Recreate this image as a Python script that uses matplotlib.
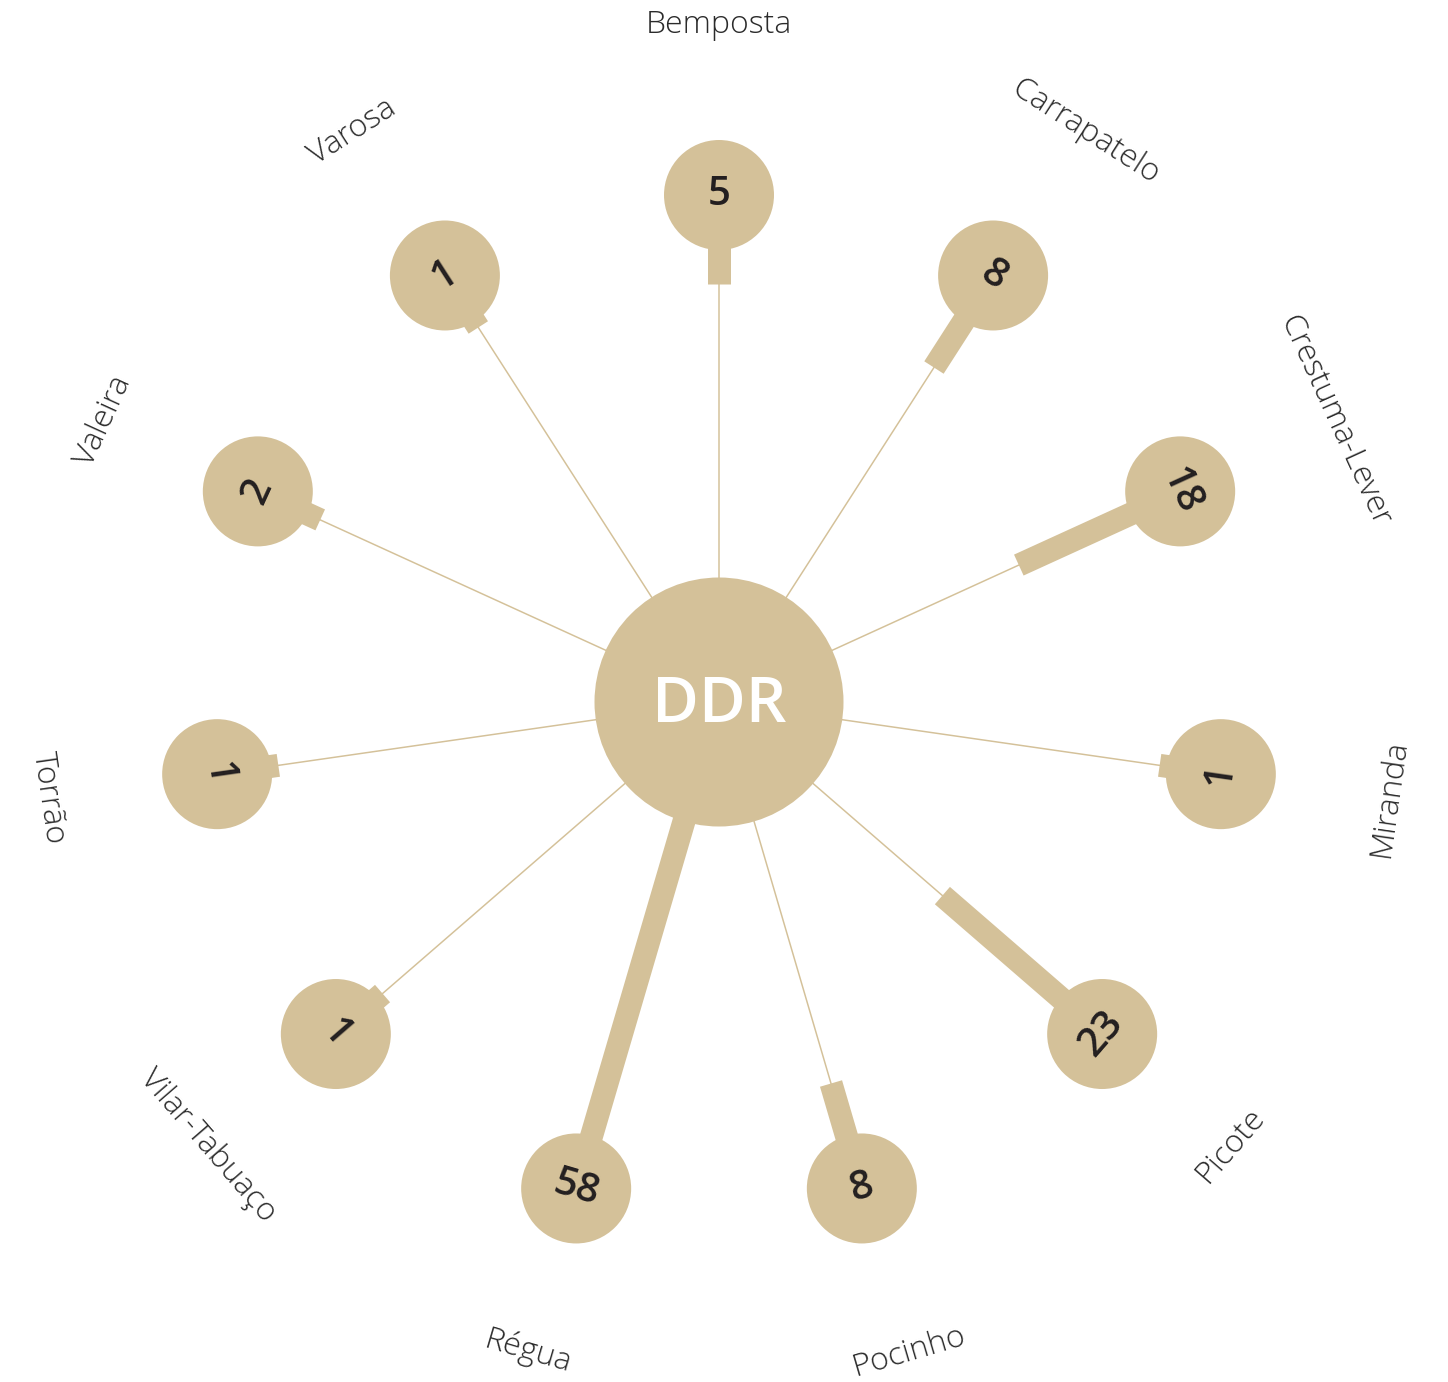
import numpy as np
import matplotlib
matplotlib.use("Agg")
import matplotlib.pyplot as plt
from matplotlib.patches import Circle

# data
stations = ["Bemposta", "Carrapatelo", "Crestuma-Lever", "Miranda", "Picote",
            "Pocinho", "Régua", "Vilar-Tabuaço", "Torrão", "Valeira", "Varosa"]
counts = [5, 8, 18, 1, 23, 8, 58, 1, 1, 2, 1]
hub_label = "DDR"

TAN = "#D4C199"
INK = "#231F20"

# layout (pixels, 1 data unit = 1 px)
W, H = 1448, 1382
CX, CY = 719, 702
R_NODE = 507
R_LABEL = 677
HUB_R = 124.5
NODE_R = 55
PX_PER_UNIT = 6.8
BAR_W_PX = 23

fig = plt.figure(figsize=(W / 100, H / 100), dpi=100)
ax = fig.add_axes([0, 0, 1, 1])
ax.set_xlim(-CX, W - CX)
ax.set_ylim(CY - H, CY)
ax.set_aspect("equal")
ax.axis("off")

n = len(stations)
angles = 90 - np.arange(n) * 360 / n
angles = (angles + 180) % 360 - 180
px2pt = 72 / 100

for name, val, a in zip(stations, counts, angles):
    t = np.radians(a)
    ux, uy = np.cos(t), np.sin(t)
    # thin spoke
    ax.plot([0, R_NODE * ux], [0, R_NODE * uy], color=TAN, lw=1.5 * px2pt,
            solid_capstyle="butt", zorder=1)
    # value bar from node toward hub
    r_end = R_NODE - NODE_R - val * PX_PER_UNIT
    ax.plot([R_NODE * ux, r_end * ux], [R_NODE * uy, r_end * uy], color=TAN,
            lw=BAR_W_PX * px2pt, solid_capstyle="butt", zorder=2)
    ax.add_patch(Circle((R_NODE * ux, R_NODE * uy), NODE_R, color=TAN, lw=0, zorder=3))

    rot = a - 90 if 0 < a <= 180 else a + 90
    ax.text(R_NODE * ux, R_NODE * uy, str(val), rotation=rot, rotation_mode="anchor",
            ha="center", va="center", fontsize=29, color=INK, fontweight="semibold",
            family=["Open Sans", "DejaVu Sans"], zorder=4)
    ax.text(R_LABEL * ux, R_LABEL * uy, name, rotation=rot, rotation_mode="anchor",
            ha="center", va="center", fontsize=23, color="#2b2b2b", fontweight="light",
            family=["Open Sans", "DejaVu Sans"], zorder=4)

ax.add_patch(Circle((0, 0), HUB_R, color=TAN, lw=0, zorder=5))
ax.text(0, -4, hub_label, ha="center", va="center", fontsize=46, color="white",
        fontweight="semibold", family=["Open Sans", "DejaVu Sans"], zorder=6)

fig.savefig("out.png", dpi=100, facecolor="white")
